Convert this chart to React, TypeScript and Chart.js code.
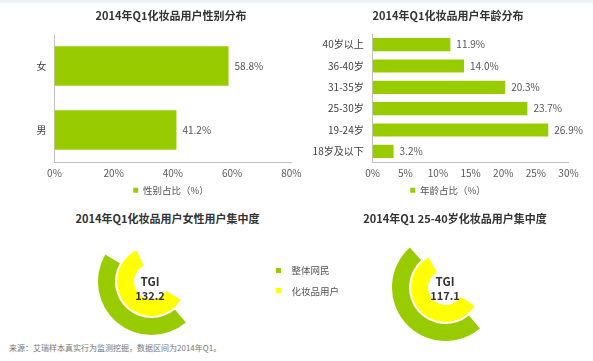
import React, { useEffect, useRef } from 'react';
import { Chart, registerables } from 'chart.js';

Chart.register(...registerables);

// ---------- data ----------
const genderTitle = '2014年Q1化妆品用户性别分布';
const genderLegend = '性别占比（%）';
const genderLabels = ['女', '男'];
const genderValues = [58.8, 41.2];
const genderMax = 80;
const genderStep = 20;

const ageTitle = '2014年Q1化妆品用户年龄分布';
const ageLegend = '年龄占比（%）';
const ageLabels = ['40岁以上', '36-40岁', '31-35岁', '25-30岁', '19-24岁', '18岁及以下'];
const ageValues = [11.9, 14.0, 20.3, 23.7, 26.9, 3.2];
const ageMax = 30;
const ageStep = 5;

const gaugeTitles = ['2014年Q1化妆品用户女性用户集中度', '2014年Q1 25-40岁化妆品用户集中度'];
const gaugeSeries = ['整体网民', '化妆品用户'];
const gaugeNetizen = [44.5, 49.5];
const gaugeCosmetic = [58.8, 58.0];
const gaugeTGI = ['132.2', '117.1'];

const sourceNote = '来源：艾瑞样本真实行为监测挖掘，数据区间为2014年Q1。';

// ---------- styles ----------
const FONT = '"Noto Sans CJK SC", "Noto Sans", sans-serif';
const GREEN = '#99cc00';
const YELLOW = '#ffff00';
const CLEAR = 'rgba(0,0,0,0)';

const valueLabels = {
  id: 'valueLabels',
  afterDatasetsDraw(chart: any) {
    const ctx = chart.ctx;
    const meta = chart.getDatasetMeta(0);
    const ds = chart.data.datasets[0];
    ctx.save();
    ctx.font = `10px ${FONT}`;
    ctx.fillStyle = '#555555';
    ctx.textAlign = 'left';
    ctx.textBaseline = 'middle';
    meta.data.forEach((bar: any, i: number) => {
      const v = Number(ds.data[i]);
      ctx.fillText(v.toFixed(1) + '%', bar.x + 6, bar.y);
    });
    ctx.restore();
  },
};

function barConfig(o: {
  title: string; legend: string; labels: string[]; values: number[]; max: number; step: number;
  padLeft: number; yWidth: number; padRight: number; yPad: number;
}): any {
  return {
    type: 'bar',
    data: {
      labels: o.labels,
      datasets: [{
        label: o.legend,
        data: o.values,
        backgroundColor: GREEN,
        borderWidth: 0,
        barPercentage: 0.62,
        categoryPercentage: 1,
      }],
    },
    options: {
      indexAxis: 'y',
      animation: false,
      responsive: false,
      maintainAspectRatio: false,
      devicePixelRatio: 1,
      layout: { padding: { left: o.padLeft, right: 0, top: 0, bottom: 0 } },
      scales: {
        x: {
          min: 0,
          max: o.max,
          ticks: {
            stepSize: o.step,
            callback: (v: any) => v + '%',
            color: '#595959',
            font: { size: 10, family: FONT },
            padding: 5.5,
            maxRotation: 0,
            autoSkip: false,
          },
          grid: { display: false, drawTicks: false },
          border: { display: true, color: '#c0c0c0', width: 1 },
          afterFit: (s: any) => { s.paddingRight = o.padRight; s.height = 17.5; },
        },
        y: {
          ticks: {
            color: '#404040',
            font: { size: 10, family: FONT },
            padding: o.yPad,
          },
          grid: { display: false, drawTicks: false },
          border: { display: true, color: '#c0c0c0', width: 1 },
          afterFit: (s: any) => { s.width = o.yWidth; },
        },
      },
      plugins: {
        title: {
          display: true,
          text: o.title,
          color: '#333333',
          font: { size: 11, weight: 'bold', family: FONT, lineHeight: 1.2 },
          padding: { top: 9.4, bottom: 11.4 },
        },
        legend: {
          position: 'bottom',
          labels: {
            boxWidth: 5,
            boxHeight: 5,
            color: '#555555',
            font: { size: 9.5, family: FONT },
            padding: 6,
          },
        },
        tooltip: { enabled: false },
      },
    },
    plugins: [valueLabels],
  };
}

function gaugeConfig(idx: number): any {
  const net = gaugeNetizen[idx];
  const cos = gaugeCosmetic[idx];
  return {
    type: 'doughnut',
    data: {
      labels: ['value', 'rest'],
      datasets: [
        {
          label: gaugeSeries[0],
          data: [net, 100 - net],
          backgroundColor: [GREEN, CLEAR],
          borderWidth: 0,
          hoverOffset: 0,
          offset: 0,
          weight: 17,
          rotation: 140,
        },
        {
          label: 'gap',
          data: [100],
          backgroundColor: [CLEAR],
          borderWidth: 0,
          hoverOffset: 0,
          offset: 0,
          weight: 2,
          rotation: 140,
        },
        {
          label: gaugeSeries[1],
          data: [cos, 100 - cos],
          backgroundColor: [YELLOW, CLEAR],
          borderWidth: 0,
          hoverOffset: 0,
          offset: 0,
          weight: 17,
          rotation: 122,
        },
      ],
    },
    options: {
      animation: false,
      responsive: false,
      maintainAspectRatio: false,
      devicePixelRatio: 1,
      cutout: 17.5,
      spacing: 0,
      layout: { padding: 0 },
      plugins: {
        legend: { display: false },
        tooltip: { enabled: false },
        title: { display: false },
      },
    },
  };
}

function useChart(ref: React.RefObject<HTMLCanvasElement | null>, make: () => any) {
  useEffect(() => {
    if (!ref.current) return;
    const chart = new Chart(ref.current, make());
    return () => chart.destroy();
  }, []);
}

const abs = (l: number, t: number, w: number, h: number): React.CSSProperties => ({
  position: 'absolute', left: l, top: t, width: w, height: h,
});

export default function App() {
  const c1 = useRef<HTMLCanvasElement>(null);
  const c2 = useRef<HTMLCanvasElement>(null);
  const g1 = useRef<HTMLCanvasElement>(null);
  const g2 = useRef<HTMLCanvasElement>(null);

  useChart(c1, () => barConfig({
    title: genderTitle, legend: genderLegend, labels: genderLabels, values: genderValues,
    max: genderMax, step: genderStep, padLeft: 0, yWidth: 54.5, padRight: 50.7, yPad: 8,
  }));
  useChart(c2, () => barConfig({
    title: ageTitle, legend: ageLegend, labels: ageLabels, values: ageValues,
    max: ageMax, step: ageStep, padLeft: 3, yWidth: 69.7, padRight: 24.5, yPad: 9,
  }));
  useChart(g1, () => gaugeConfig(0));
  useChart(g2, () => gaugeConfig(1));

  const gaugeCenters = [{ x: 151, y: 281 }, { x: 445, y: 287 }];
  const tgiPos = [{ x: 150, y1: 281, y2: 295 }, { x: 445, y1: 281, y2: 295 }];
  const titleCenters = [{ x: 167.5, y: 217.7 }, { x: 455, y: 217.7 }];
  const R = 53.5;

  return (
    <div style={{ position: 'fixed', left: 0, top: 0, width: 593, height: 361, background: '#ffffff', overflow: 'hidden', fontFamily: FONT }}>
      <div style={{ ...abs(0, 0, 593, 3), background: '#eef3f7' }} />
      <canvas ref={c1} width={342} height={205} style={abs(0, 0, 342, 205)} />
      <canvas ref={c2} width={293} height={205} style={abs(300, 0, 293, 205)} />
      <canvas ref={g1} width={107} height={107} style={abs(gaugeCenters[0].x - R, gaugeCenters[0].y - R, 107, 107)} />
      <canvas ref={g2} width={107} height={107} style={abs(gaugeCenters[1].x - R, gaugeCenters[1].y - R, 107, 107)} />

      {gaugeTitles.map((t, i) => (
        <div key={t} style={{
          ...abs(titleCenters[i].x - 150, titleCenters[i].y - 8, 300, 16),
          textAlign: 'center', fontSize: 11, fontWeight: 'bold', lineHeight: '16px', color: '#333333', whiteSpace: 'nowrap',
        }}>{t}</div>
      ))}

      {gaugeTGI.map((v, i) => (
        <React.Fragment key={v}>
          <div style={{ ...abs(tgiPos[i].x - 30, tgiPos[i].y1 - 8, 60, 16), textAlign: 'center', fontSize: 11.5, fontWeight: 'bold', lineHeight: '16px', color: '#333333' }}>TGI</div>
          <div style={{ ...abs(tgiPos[i].x - 30, tgiPos[i].y2 - 8, 60, 16), textAlign: 'center', fontSize: 11, fontWeight: 'bold', lineHeight: '16px', color: '#333333' }}>{v}</div>
        </React.Fragment>
      ))}

      {gaugeSeries.map((s, i) => (
        <React.Fragment key={s}>
          <div style={{ ...abs(276, 270 + i * 20.5 - 2.5, 5, 5), background: i === 0 ? GREEN : YELLOW }} />
          <div style={{ ...abs(291.5, 270 + i * 20.5 - 8, 100, 16), fontSize: 9.5, lineHeight: '16px', color: '#555555', whiteSpace: 'nowrap' }}>{s}</div>
        </React.Fragment>
      ))}

      <div style={{ ...abs(9, 347.5 - 7, 300, 14), fontSize: 8, lineHeight: '14px', color: '#777777', whiteSpace: 'nowrap' }}>{sourceNote}</div>
    </div>
  );
}
